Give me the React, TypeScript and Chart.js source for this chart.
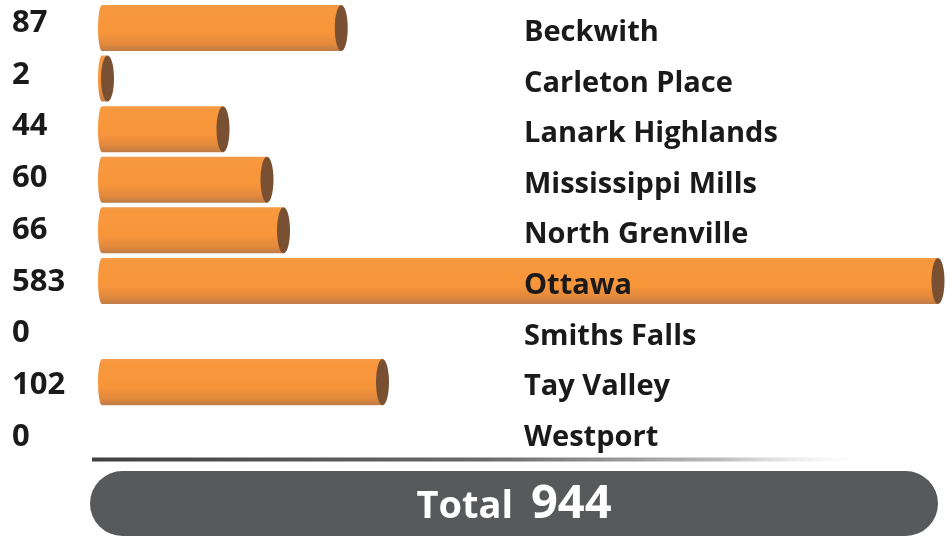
import React, { useEffect, useRef } from "react";
import { Chart, registerables } from "chart.js";

Chart.register(...registerables);

const categories = [
  "Beckwith",
  "Carleton Place",
  "Lanark Highlands",
  "Mississippi Mills",
  "North Grenville",
  "Ottawa",
  "Smiths Falls",
  "Tay Valley",
  "Westport",
];
const values = [87, 2, 44, 60, 66, 583, 0, 102, 0];
const totalLabel = "Total";
const totalValue = 944;
const axisMax = 304;

const FONT = "'Open Sans', Lato, sans-serif";

const cylinderPlugin = {
  id: "cylinders",
  afterDatasetsDraw(chart: any) {
    const ctx = chart.ctx;
    const area = chart.chartArea;
    const meta = chart.getDatasetMeta(0);
    const xScale = chart.scales.x;
    const x0 = xScale.getPixelForValue(0);
    meta.data.forEach((bar: any, i: number) => {
      if (!values[i]) return;
      const p = bar.getProps(["x", "y", "height"], true);
      const h = p.height;
      const top = p.y - h / 2;
      const bottom = p.y + h / 2;
      const cy = p.y;
      const ry = h / 2;
      const x1 = Math.min(p.x, area.right);
      const rxL = 4;
      const rxR = 6.5;
      ctx.save();
      const g = ctx.createLinearGradient(0, top, 0, bottom);
      g.addColorStop(0, "#F59B4A");
      g.addColorStop(0.08, "#F8983E");
      g.addColorStop(0.6, "#F7953A");
      g.addColorStop(0.85, "#E2893C");
      g.addColorStop(1, "#BE7B45");
      ctx.fillStyle = g;
      ctx.beginPath();
      ctx.moveTo(x0, top);
      ctx.lineTo(x1, top);
      ctx.lineTo(x1, bottom);
      ctx.lineTo(x0, bottom);
      ctx.ellipse(x0, cy, rxL, ry, 0, Math.PI / 2, (3 * Math.PI) / 2);
      ctx.closePath();
      ctx.fill();
      ctx.fillStyle = "#7A5032";
      ctx.beginPath();
      ctx.ellipse(x1, cy, rxR, ry, 0, 0, Math.PI * 2);
      ctx.fill();
      ctx.restore();
    });
  },
  afterDraw(chart: any) {
    const ctx = chart.ctx;
    const area = chart.chartArea;
    const yScale = chart.scales.y;
    ctx.save();
    // labels
    categories.forEach((c, i) => {
      const cy = yScale.getPixelForValue(i);
      ctx.fillStyle = "#1a1a1a";
      ctx.textBaseline = "alphabetic";
      ctx.textAlign = "left";
      ctx.font = `bold 29px ${FONT}`;
      ctx.fillText(c, 524, cy + 13);
      ctx.font = `bold 31px ${FONT}`;
      ctx.fillText(String(values[i]), 12, cy + 4 + i * 1.15);
    });
    // separator
    const sy = area.bottom + 1.5;
    const sx = area.left - 10;
    const sw = 790;
    const lg = ctx.createLinearGradient(sx, 0, sx + sw, 0);
    lg.addColorStop(0, "#404040");
    lg.addColorStop(0.5, "#6a6a6a");
    lg.addColorStop(0.8, "#bdbdbd");
    lg.addColorStop(1, "rgba(255,255,255,0)");
    ctx.fillStyle = lg;
    ctx.fillRect(sx, sy - 2, sw, 4);
    // total pill
    const pl = area.left - 12;
    const pr = area.right;
    const pt = area.bottom + 13;
    const pb = chart.height - 1;
    const r = (pb - pt) / 2;
    ctx.fillStyle = "#58595B";
    ctx.beginPath();
    ctx.moveTo(pl + r, pt);
    ctx.lineTo(pr - r, pt);
    ctx.arc(pr - r, pt + r, r, -Math.PI / 2, Math.PI / 2);
    ctx.lineTo(pl + r, pb);
    ctx.arc(pl + r, pt + r, r, Math.PI / 2, (3 * Math.PI) / 2);
    ctx.closePath();
    ctx.fill();
    ctx.fillStyle = "#ffffff";
    ctx.textBaseline = "alphabetic";
    ctx.textAlign = "left";
    const f1 = `bold 38px ${FONT}`;
    const f2 = `bold 47px ${FONT}`;
    ctx.font = f1;
    const w1 = ctx.measureText(totalLabel).width;
    ctx.font = f2;
    const w2 = ctx.measureText(String(totalValue)).width;
    const gap = 18;
    const cx = (pl + pr) / 2;
    const startX = cx - (w1 + gap + w2) / 2;
    const base = pt + r + 14;
    ctx.font = f1;
    ctx.fillText(totalLabel, startX, base);
    ctx.font = f2;
    ctx.fillText(String(totalValue), startX + w1 + gap, base);
    ctx.restore();
  },
};

export default function App() {
  const ref = useRef<HTMLCanvasElement>(null);
  useEffect(() => {
    if (!ref.current) return;
    const chart = new Chart(ref.current, {
      type: "bar",
      data: {
        labels: categories,
        datasets: [
          {
            data: values,
            backgroundColor: "rgba(0,0,0,0)",
            borderWidth: 0,
            barPercentage: 0.91,
            categoryPercentage: 1,
          },
        ],
      },
      options: {
        indexAxis: "y",
        animation: false,
        responsive: true,
        maintainAspectRatio: false,
        layout: { padding: { left: 102, right: 8, top: 2.7, bottom: 79 } },
        plugins: { legend: { display: false }, tooltip: { enabled: false } },
        scales: {
          x: { display: false, min: 0, max: axisMax },
          y: { display: false, offset: true },
        },
      },
      plugins: [cylinderPlugin],
    });
    return () => chart.destroy();
  }, []);
  return (
    <div style={{ position: "fixed", left: 0, top: 0, width: 946, height: 537, background: "#fff" }}>
      <canvas ref={ref} />
    </div>
  );
}
